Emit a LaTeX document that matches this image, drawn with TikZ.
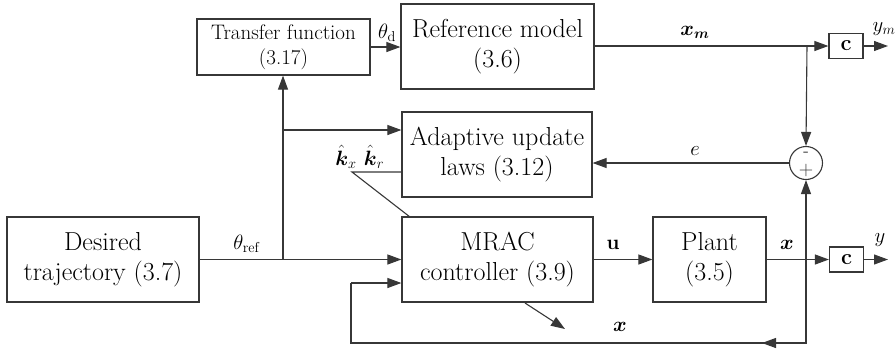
\documentclass[tikz,border=0pt]{standalone}
\usepackage{amsmath}
\usetikzlibrary{arrows.meta}
\definecolor{ln}{RGB}{55,55,55}
\tikzset{
  blk/.style={draw=ln, line width=1.2pt, fill=white, align=center, inner sep=0pt,
    font=\fontsize{26}{30}\selectfont},
  sblk/.style={blk, font=\fontsize{21}{25}\selectfont},
  cblk/.style={draw=ln, line width=1.2pt, inner sep=0pt, minimum width=34pt, minimum height=25pt,
    font=\fontsize{22}{22}\selectfont\bfseries},
  con/.style={draw=ln, line width=1.1pt},
  arr/.style={con, -{Triangle[length=14pt,width=10pt]}},
  lbl/.style={inner sep=0pt, font=\fontsize{20}{20}\selectfont}
}
\begin{document}
\begin{tikzpicture}[x=1pt,y=-1pt]
\useasboundingbox (0,0) rectangle (895,349);
% blocks
\node[sblk, minimum width=173pt, minimum height=56pt] (tf) at (283.5,47) {Transfer function\\(3.17)};
\node[blk, minimum width=193pt, minimum height=85pt] (rm) at (497.5,46.5) {Reference model\\(3.6)};
\node[blk, minimum width=190pt, minimum height=85pt] (ad) at (497,154.5) {Adaptive update\\laws (3.12)};
\node[blk, minimum width=192pt, minimum height=85pt] (des) at (103,259.5) {Desired\\trajectory (3.7)};
\node[blk, minimum width=191pt, minimum height=85pt] (mrac) at (497.5,259.5) {MRAC\\controller (3.9)};
\node[blk, minimum width=113pt, minimum height=85pt] (pl) at (709.5,259.5) {Plant\\(3.5)};
\node[cblk] (c1) at (846,46) {c};
\node[cblk] (c2) at (846.5,259.5) {c};
\node[draw=ln, line width=1.1pt, circle, minimum size=33pt, inner sep=0pt] (sum) at (806,163) {};
\node[inner sep=0pt, font=\fontsize{18}{18}\selectfont] (minus) at (806,154) {-};
\node[inner sep=0pt, font=\fontsize{20}{20}\selectfont, text=ln] (plus) at (806,171) {+};
% coordinates
\coordinate (j1) at (283,259.5);
\coordinate (j2) at (283,130);
\coordinate (j3) at (807,46);
\coordinate (j4) at (806,259.5);
\coordinate (b1) at (806,343);
\coordinate (b2) at (351,343);
\coordinate (b3) at (351,283);
\coordinate (am) at (762,343);
\coordinate (k1) at (352,172);
\coordinate (k2) at (410,217);
\coordinate (o1) at (888,46);
\coordinate (o2) at (888,259.5);
\coordinate (d1) at (525,303);
\coordinate (d2) at (565,329);
% connectors
\draw[arr] (des.east) -- (mrac.west |- des.east);
\draw[arr] (j1) -- (tf.south -| j1);
\draw[arr] (j2) -- (ad.west |- j2);
\draw[arr] (tf.east) -- (rm.west |- tf.east);
\draw[con] (rm.east |- j3) -- (j3);
\draw[arr] (j3) -- (c1.west);
\draw[arr] (c1.east) -- (o1);
\draw[arr] (j3) -- (sum.north);
\draw[arr] (sum.west) -- (ad.east |- sum.west);
\draw[con] (ad.west |- k1) -- (k1) -- (k2);
\draw[arr] (mrac.east) -- (pl.west);
\draw[arr] (pl.east) -- (c2.west);
\draw[arr] (c2.east) -- (o2);
\draw[arr] (j4) -- (sum.south);
\draw[con] (j4) -- (b1) -- (b2) -- (b3);
\draw[arr] (b1) -- (am);
\draw[arr] (b3) -- (mrac.west |- b3);
\draw[arr] (d1) -- (d2);
% labels
\node[lbl] (lthd) at (387,33) {$\theta_{\mathrm{d}}$};
\node[lbl] (lthr) at (247,244) {$\theta_{\mathrm{ref}}$};
\node[lbl] (lxm) at (695,32) {$\boldsymbol{x}_{\boldsymbol{m}}$};
\node[lbl] (lym) at (884,29) {$y_m$};
\node[lbl] (le) at (695,151) {$e$};
\node[lbl] (lkx) at (346,157) {$\hat{\boldsymbol{k}}_{x}$};
\node[lbl] (lkr) at (374,157) {$\hat{\boldsymbol{k}}_{r}$};
\node[lbl] (lu) at (613,245) {$\mathbf{u}$};
\node[lbl] (lx1) at (787,245) {$\boldsymbol{x}$};
\node[lbl] (ly) at (880,240) {$y$};
\node[lbl] (lx2) at (620,327) {$\boldsymbol{x}$};
\end{tikzpicture}
\end{document}
